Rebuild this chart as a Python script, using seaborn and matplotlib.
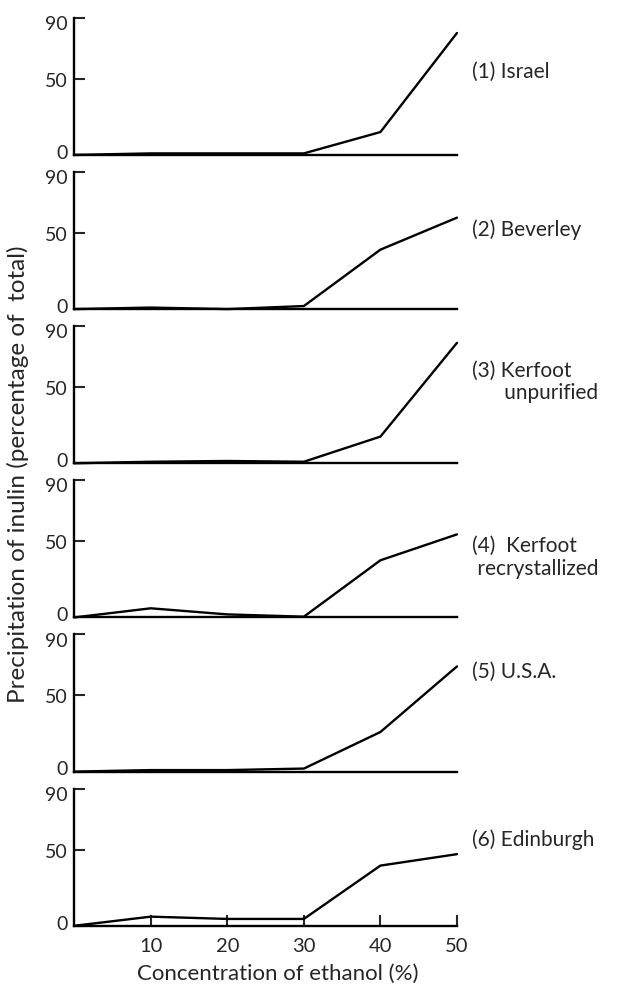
import matplotlib
matplotlib.use("Agg")
import matplotlib.pyplot as plt
import matplotlib.transforms as mtransforms
import seaborn as sns
import pandas as pd

# ethanol concentration (%)
conc = [0, 10, 20, 30, 40, 50]

# precipitation of inulin (% of total), one list per sample
israel = [0, 1, 1, 1, 15, 80]
beverley = [0, 1, 0, 2, 39, 60]
kerfoot_unpurified = [0, 1, 1.5, 1, 17.5, 79]
kerfoot_recrystallized = [0, 6, 2, 0.5, 37.5, 54.5]
usa = [0, 1, 1, 2, 26, 69]
edinburgh = [0, 6, 4.5, 4.5, 39.5, 47]

series = [israel, beverley, kerfoot_unpurified, kerfoot_recrystallized, usa, edinburgh]
labels = ["(1) Israel", "(2) Beverley", "(3) Kerfoot\n      unpurified",
          "(4)  Kerfoot\n recrystallized", "(5) U.S.A.", "(6) Edinburgh"]
label_y = [55, 53, 54, 40, 66, 57]

yticks = [0, 50, 90]
xticks = [10, 20, 30, 40, 50]

sns.set_style("white")
plt.rcParams["font.family"] = ["Lato", "DejaVu Sans"]

fig, axes = plt.subplots(6, 1, figsize=(6.4, 9.87), dpi=100, sharex=True)
fig.subplots_adjust(left=0.116, right=0.714, top=0.981, bottom=0.061, hspace=0.124)

for ax, vals, lab, ly in zip(axes, series, labels, label_y):
    df = pd.DataFrame({"conc": conc, "pct": vals})
    sns.lineplot(data=df, x="conc", y="pct", ax=ax, color="black", linewidth=1.7)
    for ln in ax.lines:
        ln.set_clip_on(False)
    ax.set_xlim(0, 50)
    ax.set_ylim(0, 90)
    ax.set_yticks(yticks)
    ax.set_xticks(xticks)
    sns.despine(ax=ax)
    for s in ["left", "bottom"]:
        ax.spines[s].set_linewidth(1.7)
        ax.spines[s].set_color("black")
    ax.tick_params(axis="y", direction="in", length=8, width=1.5, pad=5,
                   labelsize=14, left=True)
    ax.tick_params(axis="x", direction="in", length=8, width=1.5, pad=8,
                   labelsize=14.5, bottom=True)
    ax.set_xlabel("")
    ax.set_ylabel("")
    ax.text(52, ly, lab, fontsize=15, va="center", ha="left", clip_on=False,
            linespacing=1.15)

for ax in axes[:-1]:
    ax.tick_params(axis="x", bottom=False, labelbottom=False)

# nudge the 0 label up and the 90 label down so neighbouring panels don't collide
fig.canvas.draw()
for ax in axes:
    ticklabels = ax.get_yticklabels()
    up = mtransforms.ScaledTranslation(0, 3 / 72, fig.dpi_scale_trans)
    down = mtransforms.ScaledTranslation(0, -3 / 72, fig.dpi_scale_trans)
    ticklabels[0].set_transform(ticklabels[0].get_transform() + up)
    ticklabels[-1].set_transform(ticklabels[-1].get_transform() + down)

axes[-1].set_xlabel("Concentration of ethanol (%)", fontsize=16)
axes[-1].xaxis.set_label_coords(0.533, -0.27)
fig.text(0.028, 0.52, "Precipitation of inulin (percentage of  total)",
         rotation=90, va="center", ha="center", fontsize=17.5)

fig.savefig("out.png", dpi=100)
